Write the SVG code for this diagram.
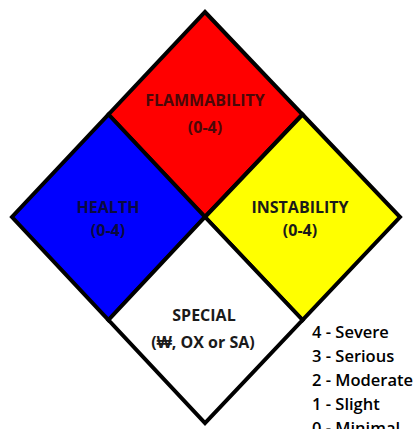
<svg xmlns="http://www.w3.org/2000/svg" width="417" height="429" viewBox="0 0 417 429">
<style>
.q{stroke:#000;stroke-width:4;stroke-linejoin:miter}
.lbl{font-family:"Open Sans","Liberation Sans",sans-serif;font-weight:700;font-size:16px;text-anchor:middle}
.leg{font-family:"Open Sans","Liberation Sans",sans-serif;font-weight:600;font-size:16.5px;fill:#000}
</style>
<rect width="417" height="429" fill="#fff"/>
<g id="flammability">
<polygon class="q" points="205,12 302.5,114.5 205,217 108.5,114.5" fill="#ff0000"/>
<text class="lbl" x="205" y="106" fill="#4a0808">FLAMMABILITY</text>
<text class="lbl" x="205" y="133" fill="#4a0808">(0-4)</text>
</g>
<g id="health">
<polygon class="q" points="108.5,114.5 205,217 108.5,320 12,217" fill="#0000ff"/>
<text class="lbl" x="108" y="213" fill="#0a0a40">HEALTH</text>
<text class="lbl" x="108" y="236" fill="#0a0a40">(0-4)</text>
</g>
<g id="instability">
<polygon class="q" points="302.5,114.5 400,217 302.5,320 205,217" fill="#ffff00"/>
<text class="lbl" x="300" y="213" fill="#1a1a1a">INSTABILITY</text>
<text class="lbl" x="300" y="236" fill="#1a1a1a">(0-4)</text>
</g>
<g id="special">
<polygon class="q" points="205,217 302.5,320 205,423 108.5,320" fill="#ffffff"/>
<text class="lbl" x="204" y="321" fill="#1a1a1a">SPECIAL</text>
<text class="lbl" x="203" y="348" fill="#1a1a1a">(₩, OX or SA)</text>
</g>
<g id="legend">
<text class="leg" x="312" y="338">4 - Severe</text>
<text class="leg" x="312" y="362">3 - Serious</text>
<text class="leg" x="312" y="386">2 - Moderate</text>
<text class="leg" x="312" y="410">1 - Slight</text>
<text class="leg" x="312" y="434">0 - Minimal</text>
</g>
</svg>
